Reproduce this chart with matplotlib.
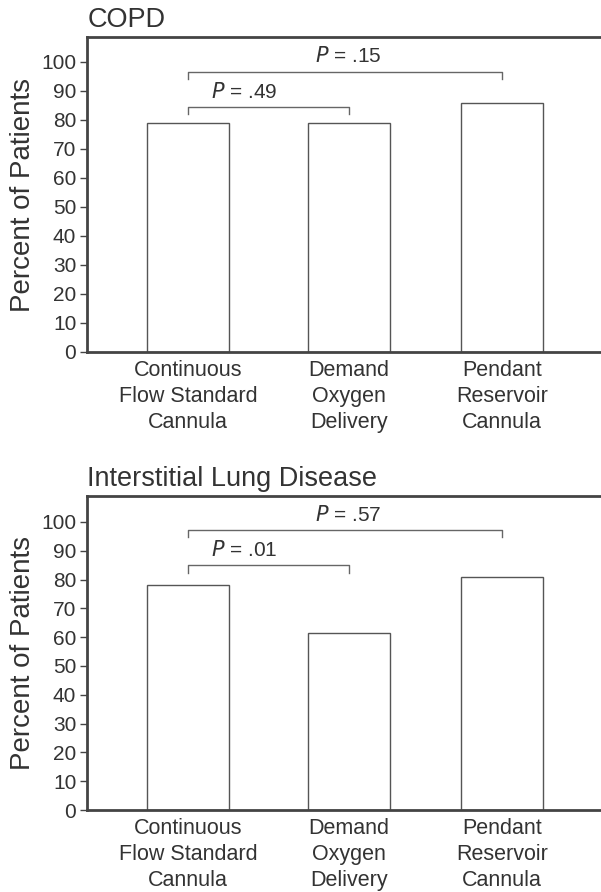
import matplotlib.pyplot as plt

plt.rcParams['font.family'] = ['Liberation Sans', 'DejaVu Sans']

categories = ['Continuous\nFlow Standard\nCannula', 'Demand\nOxygen\nDelivery',
              'Pendant\nReservoir\nCannula']
yticks = [0, 10, 20, 30, 40, 50, 60, 70, 80, 90, 100]

copd_values = [79, 79, 86]
ild_values = [78, 61.6, 81]

# comparisons: (from bar, to bar, bracket height, tip height, label)
copd_pairs = [(0, 1, 84.6, 82.0, '.49'), (0, 2, 96.7, 94.2, '.15')]
ild_pairs = [(0, 1, 85.0, 82.4, '.01'), (0, 2, 97.1, 94.9, '.57')]

xpos = [0, 1, 1.956]
txt = '#333333'
edge = '#555555'

fig = plt.figure(figsize=(6.01, 8.92), dpi=100)
panels = [
    ('COPD', copd_values, copd_pairs, [0.1454, 0.6054, 0.855, 0.3531], 108.6),
    ('Interstitial Lung Disease', ild_values, ild_pairs, [0.1454, 0.0919, 0.855, 0.3524], 109.1),
]

for title, vals, pairs, rect, ytop in panels:
    ax = fig.add_axes(rect)
    ax.bar(xpos, vals, width=0.51, color='white', edgecolor=edge, linewidth=1.0)
    for i, j, h, tip, p in pairs:
        ax.plot([xpos[i], xpos[i], xpos[j], xpos[j]], [tip, h, h, tip],
                color='#666666', linewidth=1.0)
        if j == 1:
            xt = xpos[i] + 0.35
        else:
            xt = (xpos[i] + xpos[j]) / 2 + 0.02
        ax.text(xt, h + 5.2, '$P$ = ' + p, ha='center', va='center',
                fontsize=15, color=txt)
    ax.set_xlim(-0.629, 2.575)
    ax.set_ylim(0, ytop)
    ax.set_yticks(yticks)
    ax.set_xticks(xpos)
    ax.set_xticklabels(categories, fontsize=15.5, color=txt, linespacing=1.3)
    ax.tick_params(axis='x', length=0, pad=6)
    ax.tick_params(axis='y', length=5, width=1.0, color='#444444', pad=3,
                   labelsize=15, labelcolor=txt)
    ax.set_ylabel('Percent of Patients', fontsize=20, color=txt, labelpad=4)
    ax.set_title(title, loc='left', fontsize=19.5, color=txt, pad=7)
    for s in ['left', 'bottom', 'top']:
        ax.spines[s].set_linewidth(2.0)
        ax.spines[s].set_color('#444444')
    ax.spines['right'].set_visible(False)

fig.savefig('out.png', dpi=100)
